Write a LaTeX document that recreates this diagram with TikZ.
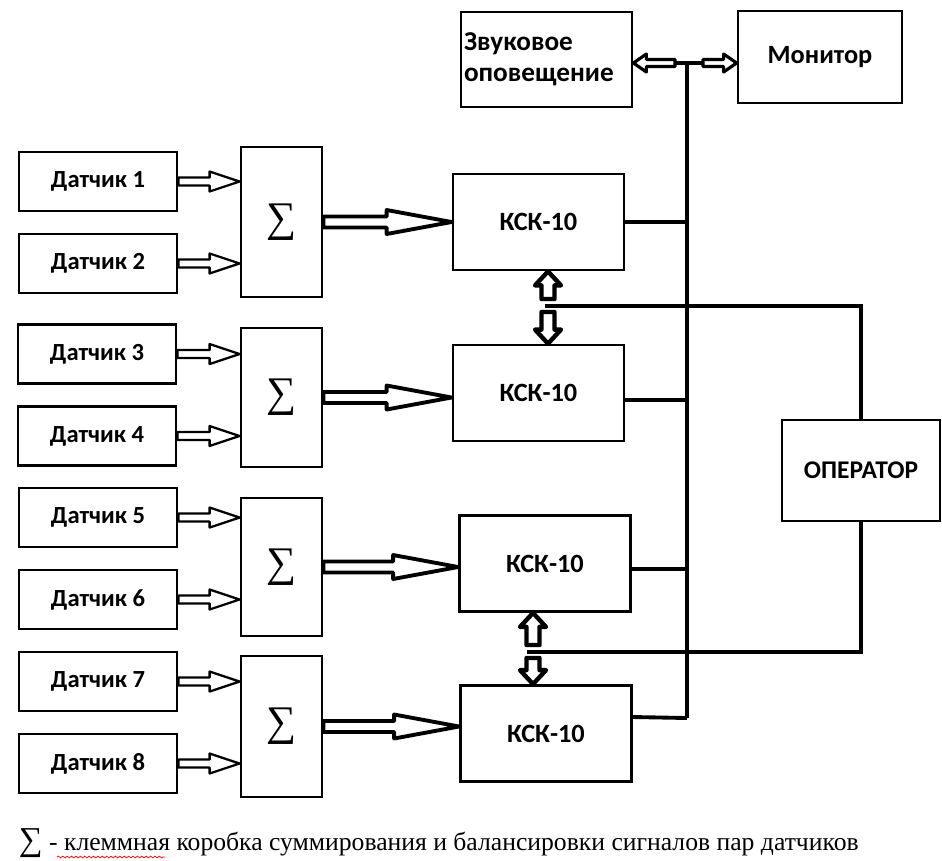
\documentclass[tikz,border=0pt]{standalone}
\usepackage{fontspec}
\setmainfont{Carlito}
\newfontfamily\capfont{Liberation Serif}
\usetikzlibrary{calc,positioning,decorations.pathmorphing}
\tikzstyle{every node}+=[inner sep=0.5mm,node distance=1.64cm,font=\bfseries\fontsize{14}{17}\selectfont]
\tikzstyle{every path}+=[line width=1.6pt]
\tikzstyle{sensor}=[draw,rectangle,minimum width=3.16cm,minimum height=1.18cm]
\tikzstyle{summ}=[draw,rectangle,minimum width=1.62cm,font=\capfont\fontsize{24}{24}\selectfont]
\tikzstyle{ksk}=[draw,rectangle,minimum width=3.42cm,minimum height=1.92cm,font=\bfseries\fontsize{15}{18}\selectfont]
\tikzstyle{wire}=[line width=2.2pt]
\tikzstyle{arr}=[fill=white,line join=round]

% hollow block arrow: style, shaft half width, head half width, head length, from, to
\newcommand{\blkarrow}[6]{%
  \coordinate (ba-s) at (#5);
  \coordinate (ba-e) at (#6);
  \coordinate (ba-h) at ($(ba-e)!#4!(ba-s)$);
  \draw[arr,#1] ($(ba-s)!#2!90:(ba-e)$) -- ($(ba-h)!#2!-90:(ba-s)$) -- ($(ba-h)!#3!-90:(ba-s)$) -- (ba-e)
    -- ($(ba-h)!#3!90:(ba-s)$) -- ($(ba-h)!#2!90:(ba-s)$) -- ($(ba-s)!#2!-90:(ba-e)$) -- cycle;
}
\newcommand{\sarrow}[2]{\blkarrow{line width=1.3pt}{0.08cm}{0.2cm}{0.6cm}{#1}{#2}}
\newcommand{\barrow}[2]{\blkarrow{line width=2.2pt}{0.11cm}{0.24cm}{1.3cm}{#1}{#2}}
\newcommand{\varrow}[2]{\blkarrow{line width=2.5pt}{0.13cm}{0.26cm}{0.28cm}{#1}{#2}}
\newcommand{\tarrow}[2]{\blkarrow{line width=1.8pt}{0.07cm}{0.18cm}{0.26cm}{#1}{#2}}

\begin{document}
\begin{tikzpicture}[x=0.02cm,y=-0.02cm]
\useasboundingbox (0,0) rectangle (942,860);

% sensors
\node[sensor] (d1) at (98,181.5) {Датчик 1};
\node[sensor,below of=d1] (d2) {Датчик 2};
\node[sensor] (d3) at (97,354) {Датчик 3};
\node[sensor,below of=d3] (d4) {Датчик 4};
\node[sensor] (d5) at (98,517.5) {Датчик 5};
\node[sensor,below of=d5] (d6) {Датчик 6};
\node[sensor] (d7) at (98,681.5) {Датчик 7};
\node[sensor,below of=d7] (d8) {Датчик 8};

% summing boxes
\node[summ,minimum height=3cm] (s1) at (281.5,222) {∑};
\node[summ,minimum height=2.78cm] (s2) at (281.5,397.5) {∑};
\node[summ,minimum height=2.76cm] (s3) at (281.5,567) {∑};
\node[summ,minimum height=2.82cm] (s4) at (281.5,726.5) {∑};

% controllers
\node[ksk] (k1) at (538.5,222) {КСК-10};
\node[ksk] (k2) at (538.5,393) {КСК-10};
\node[ksk] (k3) at (545,563.5) {КСК-10};
\node[ksk] (k4) at (546,733.5) {КСК-10};

\node[ksk,minimum height=1.9cm,text width=3.3cm,align=left,font=\bfseries\fontsize{15.5}{17.5}\selectfont] (zv) at (546.5,59.5) {Звуковое\\оповещение};
\node[draw,rectangle,minimum width=3.28cm,minimum height=1.84cm,font=\bfseries\fontsize{15}{18}\selectfont] (mon) at (820,57) {Монитор};
\node[draw,rectangle,minimum width=3.16cm,minimum height=2.02cm,font=\bfseries\fontsize{14.5}{17}\selectfont] (op) at (861,470.5) {ОПЕРАТОР};

% sensors to sums
\sarrow{d1.east}{d1.east -| s1.west}
\sarrow{d2.east}{d2.east -| s1.west}
\sarrow{d3.east}{d3.east -| s2.west}
\sarrow{d4.east}{d4.east -| s2.west}
\sarrow{d5.east}{d5.east -| s3.west}
\sarrow{d6.east}{d6.east -| s3.west}
\sarrow{d7.east}{d7.east -| s4.west}
\sarrow{d8.east}{d8.east -| s4.west}

% sums to controllers
\barrow{s1.east}{s1.east -| k1.west}
\barrow{s2.east}{s2.east -| k2.west}
\barrow{s3.east}{s3.east -| k3.west}
\barrow{s4.east}{s4.east -| k4.west}

% bus
\coordinate (bt) at (687,63);
\coordinate (bb) at (687,718);
\draw[wire] (bt) -- (bb);
\draw[wire] (k1.east) -- (k1.east -| bt);
\draw[wire] ([yshift=-0.14cm]k2.east) -- ([yshift=-0.14cm]k2.east -| bt);
\draw[wire] ([yshift=-0.11cm]k3.east) -- ([yshift=-0.11cm]k3.east -| bt);
\draw[wire] ([yshift=0.33cm]k4.east) -- (bb);

\coordinate (zl) at (675,63);
\coordinate (mr) at (703,63);
\draw[wire] (zl) -- (mr);
\tarrow{zl}{zl -| zv.east}
\tarrow{mr}{mr -| mon.west}

% operator lines
\coordinate (o1) at (545,306);
\coordinate (o2) at (527,652);
\draw[wire] (o1) -| (op.north);
\draw[wire] (o2) -| (op.south);

\coordinate (u1) at (548,299);
\coordinate (v1) at (548,312);
\coordinate (u2) at (533,645);
\coordinate (v2) at (533,658);
\varrow{u1}{u1 |- k1.south}
\varrow{v1}{v1 |- k2.north}
\varrow{u2}{u2 |- k3.south}
\varrow{v2}{v2 |- k4.north}

% legend
\node[anchor=base west,font=\capfont\fontsize{14.6}{17}\selectfont] (leg) at (15,850) {{\fontsize{19}{19}\selectfont∑} - клеммная коробка суммирования и балансировки сигналов пар датчиков};
\draw[red,line width=0.4pt,decorate,decoration={snake,amplitude=0.5pt,segment length=2.5pt}] (57,857) -- (165,857);
\end{tikzpicture}
\end{document}
